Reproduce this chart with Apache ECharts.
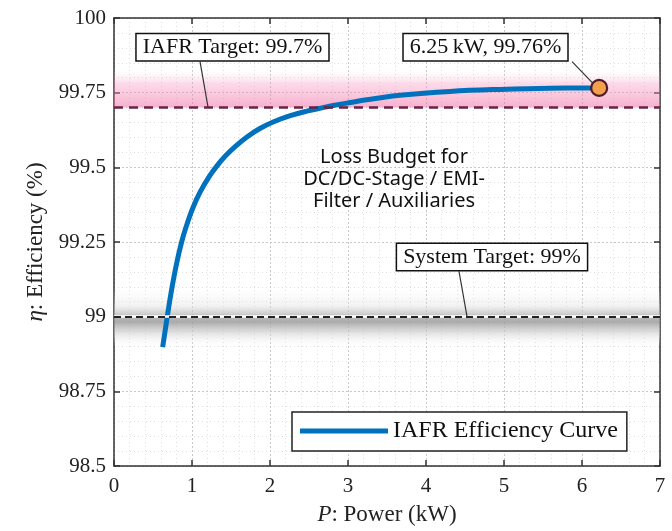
<!DOCTYPE html>
<html><head><meta charset="utf-8">
<script src="https://cdn.jsdelivr.net/npm/echarts@6/dist/echarts.min.js"></script>
<style>html,body{margin:0;padding:0;background:#fff}#c{width:672px;height:531px}</style>
</head><body><div id="c"></div>
<script>
// ---- data ----
const power = [0.624,0.683,0.735,0.80,0.867,0.93,1.008,1.10,1.21,1.32,1.44,1.57,1.70,1.87,2.04,2.26,2.47,2.68,2.81,3.03,3.24,3.67,4.31,4.95,5.59,6.01,6.22];
const efficiency = [98.898,99.0,99.085,99.175,99.25,99.305,99.362,99.415,99.465,99.505,99.541,99.573,99.601,99.630,99.652,99.673,99.688,99.700,99.707,99.717,99.726,99.741,99.754,99.761,99.765,99.7655,99.766];
const markerPower = [6.22];
const markerEff = [99.766];
const xTicks = {min:0, max:7, interval:1};
const yTicks = {min:98.5, max:100, interval:0.25};
const iafrTarget = 99.7;
const systemTarget = 99;
const pinkBand = [99.70, 99.835];
const grayBand = [98.90, 99.095];
const annotations = [
  {text:'IAFR Target: 99.7%', box:[1.519,99.902], from:[1.103,99.854], to:[1.205,99.702]},
  {text:'6.25\u2009kW, 99.76%', box:[4.763,99.902], from:[5.872,99.854], to:[6.141,99.781]},
  {text:'System Target: 99%', box:[4.846,99.200], from:[4.423,99.152], to:[4.526,99.0]}
];
const lossText = {text:'Loss Budget for\nDC/DC-Stage / EMI-\nFilter / Auxiliaries', at:[3.59,99.46]};
const legendName = 'IAFR Efficiency Curve';

const serif = '"Liberation Serif", "Times New Roman", serif';
const chart = echarts.init(document.getElementById('c'), null, {renderer:'canvas'});
const axisCol = '#333';
const baseAxis = {
  axisLine:{show:true, onZero:false, lineStyle:{color:axisCol, width:1.5}},
  axisTick:{show:true, inside:true, length:6, lineStyle:{color:axisCol, width:1.5}},
  axisLabel:{color:'#222', fontFamily:serif, fontSize:21},
  splitLine:{show:true, lineStyle:{color:'#c8c8c8', type:[2,2], width:1}},
  minorTick:{show:false, splitNumber:5},
  minorSplitLine:{show:true, lineStyle:{color:'#dedede', type:[1,3], width:1}}
};
const curveData = power.map((p,i)=>[p, efficiency[i]]);
const markerData = markerPower.map((p,i)=>[p, markerEff[i]]);
const nameStyle = {fontFamily:serif, fontSize:23, color:'#222', rich:{i:{fontStyle:'italic', fontFamily:serif, fontSize:23, color:'#222'}}};

chart.setOption({
  animation:false,
  backgroundColor:'#fff',
  grid:{left:114, right:12, top:18, bottom:60, containLabel:false},
  xAxis:[
    Object.assign({}, baseAxis, {type:'value', min:xTicks.min, max:xTicks.max, interval:xTicks.interval,
      axisLabel:Object.assign({}, baseAxis.axisLabel, {margin:10}),
      name:'{i|P}: Power (kW)', nameLocation:'middle', nameGap:37, nameTextStyle:nameStyle}),
    {type:'value', position:'top', min:xTicks.min, max:xTicks.max, interval:xTicks.interval,
      axisLine:{show:true, onZero:false, lineStyle:{color:axisCol, width:1.5}},
      axisTick:{show:true, inside:true, length:6, lineStyle:{color:axisCol, width:1.5}},
      axisLabel:{show:false}, splitLine:{show:false}}
  ],
  yAxis:[
    Object.assign({}, baseAxis, {type:'value', min:yTicks.min, max:yTicks.max, interval:yTicks.interval,
      axisLabel:Object.assign({}, baseAxis.axisLabel, {margin:8}),
      name:'{i|\u03b7}: Efficiency (%)', nameLocation:'middle', nameGap:62, nameTextStyle:nameStyle}),
    {type:'value', position:'right', min:yTicks.min, max:yTicks.max, interval:yTicks.interval,
      axisLine:{show:true, onZero:false, lineStyle:{color:axisCol, width:1.5}},
      axisTick:{show:true, inside:true, length:6, lineStyle:{color:axisCol, width:1.5}},
      axisLabel:{show:false}, splitLine:{show:false}}
  ],
  legend:{
    data:[legendName], left:292, top:412, orient:'horizontal',
    icon:'rect', itemWidth:88, itemHeight:5, itemGap:5,
    padding:[7,9,8,8], backgroundColor:'#fff', borderColor:'#222', borderWidth:1.5,
    textStyle:{fontFamily:serif, fontSize:24, color:'#111', width:236, padding:[1,0,0,0]}
  },
  series:[
    {name:legendName, type:'line', data:curveData, smooth:0.4, showSymbol:false, symbol:'none',
     lineStyle:{color:'#0072BD', width:5}, itemStyle:{color:'#0072BD'}, z:3, clip:true},
    {name:'bands', type:'line', data:[], z:4, clip:false, silent:true,
     markArea:{silent:true, data:[
       [{xAxis:0, yAxis:pinkBand[1], itemStyle:{color:{type:'linear',x:0,y:0,x2:0,y2:1,colorStops:[
          {offset:0,color:'rgba(255,255,255,0)'},{offset:0.4,color:'rgba(245,150,190,0.35)'},{offset:1,color:'rgba(240,110,165,0.55)'}]}}},
        {xAxis:7.3, yAxis:pinkBand[0]}],
       [{xAxis:0, yAxis:grayBand[1], itemStyle:{color:{type:'linear',x:0,y:0,x2:0,y2:1,colorStops:[
          {offset:0,color:'rgba(240,240,240,0)'},{offset:0.3,color:'rgba(225,225,225,0.45)'},{offset:0.5,color:'rgba(165,165,165,0.8)'},{offset:0.58,color:'rgba(150,150,150,0.8)'},{offset:0.8,color:'rgba(215,215,215,0.55)'},{offset:1,color:'rgba(245,245,245,0)'}]}}},
        {xAxis:7.3, yAxis:grayBand[0]}]
     ]}},
    {name:'lines', type:'line', data:[], z:5, silent:true,
     markLine:{silent:true, symbol:'none', label:{show:false}, data:[
       {yAxis:iafrTarget, lineStyle:{color:'#6b2244', width:2.5, type:[9,6]}},
       {yAxis:systemTarget, lineStyle:{color:'#fff', width:2.5, type:'solid'}},
       {yAxis:systemTarget, lineStyle:{color:'#222', width:2, type:[7,4]}}
     ]}},
    {name:'marker', type:'scatter', data:markerData, symbol:'circle', symbolSize:16, z:7,
     itemStyle:{color:'#f2a04a', borderColor:'#4e1a2c', borderWidth:2.2, opacity:1}}
  ]
});

function px(pt){ return chart.convertToPixel({xAxisIndex:0, yAxisIndex:0}, pt); }
const gfx = [];
annotations.forEach(a=>{
  const f = px(a.from), t = px(a.to), b = px(a.box);
  gfx.push({type:'line', z:10, shape:{x1:f[0],y1:f[1],x2:t[0],y2:t[1]}, style:{stroke:'#333', lineWidth:1.2}});
  gfx.push({type:'text', z:11, x:b[0], y:b[1], style:{text:a.text, font:'22px '+serif, fill:'#111',
    align:'center', verticalAlign:'middle', backgroundColor:'#fff', borderColor:'#111', borderWidth:1.5, padding:[3,6,1,6]}});
});
const lp = px(lossText.at);
gfx.push({type:'text', z:9, x:lp[0], y:lp[1], style:{text:lossText.text, font:'20px "Noto Sans", sans-serif', fill:'#111',
  align:'center', verticalAlign:'middle', lineHeight:22}});
chart.setOption({graphic:gfx});
</script></body></html>
